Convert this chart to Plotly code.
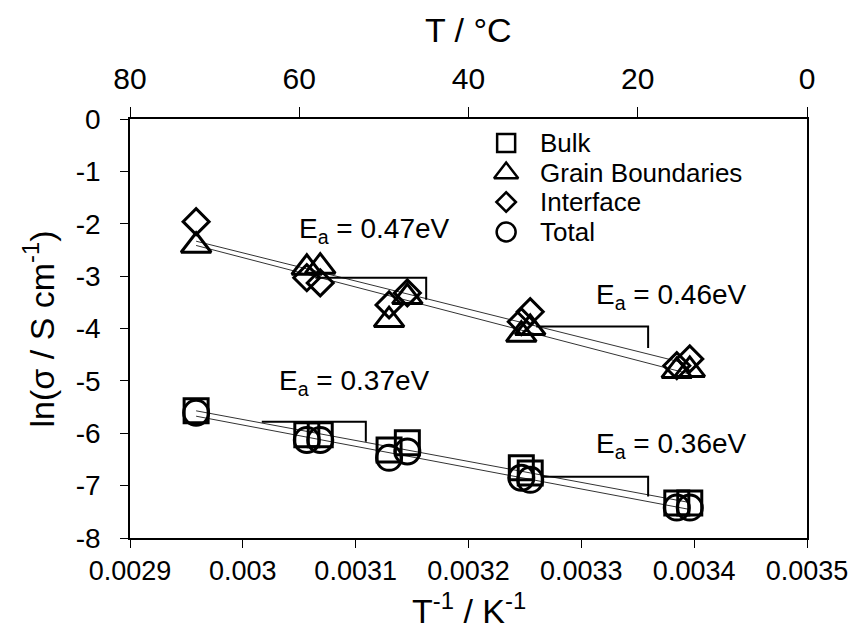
import numpy as np
import plotly.graph_objects as go

# ---- data ----
inv_T = [0.0029586, 0.0030567, 0.0030686, 0.0031296, 0.0031458,
         0.0032468, 0.0032547, 0.0033846, 0.0033961]
bulk = [-5.57, -6.03, -6.03, -6.32, -6.18, -6.66, -6.76, -7.33, -7.33]
grain_boundaries = [-2.42, -2.84, -2.82, -3.84, -3.40, -4.12, -3.99, -4.81, -4.79]
interface = [-1.96, -3.03, -3.13, -3.55, -3.32, -3.87, -3.68, -4.71, -4.58]
total = [-5.61, -6.13, -6.13, -6.47, -6.35, -6.85, -6.89, -7.42, -7.42]

series_names = ["Bulk", "Grain Boundaries", "Interface", "Total"]

x_ticks = [0.0029, 0.0030, 0.0031, 0.0032, 0.0033, 0.0034, 0.0035]
x_ticktext = ["0.0029", "0.003", "0.0031", "0.0032", "0.0033", "0.0034", "0.0035"]
y_ticks = [0, -1, -2, -3, -4, -5, -6, -7, -8]
y_ticktext = ["0", "-1", "-2", "-3", "-4", "-5", "-6", "-7", "-8"]
top_ticks = [80, 60, 40, 20, 0]

# slope guide brackets (x, y in data units) and their labels
brackets = [
    ([0.0030642, 0.0031625, 0.0031625], [-3.03, -3.03, -3.45]),
    ([0.0032600, 0.0033592, 0.0033592], [-3.96, -3.96, -4.37]),
    ([0.0030168, 0.0031090, 0.0031090], [-5.78, -5.78, -6.16]),
    ([0.0032661, 0.0033592, 0.0033592], [-6.83, -6.83, -7.21]),
]
ea_labels = ["0.47eV", "0.46eV", "0.37eV", "0.36eV"]
ea_x = [0.0031169, 0.0033803, 0.0030993, 0.0033803]
ea_y = [-2.12, -3.38, -5.04, -6.24]

FONT = "Liberation Sans, Arial, sans-serif"

symbols = ["square-open", "triangle-up-open", "diamond-open", "circle-open"]
sizes = [24, 26, 20, 25]
legend_sizes = [18, 21, 15, 19]
values = [bulk, grain_boundaries, interface, total]

fig = go.Figure()

# linear-fit trendlines
for vals in values:
    k, b = np.polyfit(inv_T, vals, 1)
    xs = np.array([min(inv_T), max(inv_T)])
    fig.add_trace(go.Scatter(x=xs, y=k * xs + b, mode="lines",
                             line=dict(color="#333333", width=1),
                             showlegend=False, hoverinfo="skip"))

# slope brackets
for bx, by in brackets:
    fig.add_trace(go.Scatter(x=bx, y=by, mode="lines",
                             line=dict(color="black", width=2),
                             showlegend=False, hoverinfo="skip"))

# data markers
for name, vals, sym, sz in zip(series_names, values, symbols, sizes):
    fig.add_trace(go.Scatter(x=inv_T, y=vals, mode="markers", name=name,
                             marker=dict(symbol=sym, size=sz, color="black",
                                         line=dict(color="black", width=3)),
                             showlegend=False))

# dummy trace to activate the top temperature axis
fig.add_trace(go.Scatter(x=[80, 0], y=[-100, -100], xaxis="x2", mode="markers",
                         marker=dict(opacity=0), showlegend=False, hoverinfo="skip"))

# hand-made legend on an invisible 0..1 overlay axis
leg_x_marker = 0.5556
leg_x_text = 0.603
leg_y = [0.9427, 0.8711, 0.8019, 0.7303]
for name, sym, sz, ly in zip(series_names, symbols, legend_sizes, leg_y):
    fig.add_trace(go.Scatter(x=[leg_x_marker], y=[ly], xaxis="x3", yaxis="y3",
                             mode="markers", showlegend=False, hoverinfo="skip",
                             marker=dict(symbol=sym, size=sz, color="black",
                                         line=dict(color="black", width=2.5))))
    fig.add_annotation(x=leg_x_text, y=ly, xref="paper", yref="paper", text=name,
                       showarrow=False, xanchor="left", yanchor="middle",
                       font=dict(family=FONT, size=26, color="black"))

for lab, ax, ay in zip(ea_labels, ea_x, ea_y):
    fig.add_annotation(x=ax, y=ay, text="E<sub>a</sub> = " + lab, showarrow=False,
                       font=dict(family=FONT, size=28, color="black"))

# axis titles
TITLE = dict(family=FONT, size=34, color="black")
fig.add_annotation(x=0.5, y=1.2124, xref="paper", yref="paper", text="T / °C",
                   showarrow=False, xanchor="center", yanchor="middle", font=TITLE)
fig.add_annotation(x=0.5, y=-0.168, xref="paper", yref="paper",
                   text="T<sup>-1</sup> / K<sup>-1</sup>",
                   showarrow=False, xanchor="center", yanchor="middle", font=TITLE)
fig.add_annotation(x=-0.1345, y=0.5, xref="paper", yref="paper",
                   text="ln(σ / S cm<sup>-1</sup>)", textangle=-90,
                   showarrow=False, xanchor="center", yanchor="middle", font=TITLE)

AX = dict(showgrid=False, zeroline=False, showline=True, linecolor="black",
          linewidth=1.5, ticks="outside", tickcolor="black")

fig.update_layout(
    width=860, height=636,
    margin=dict(l=130, r=46, t=119, b=98),
    paper_bgcolor="white", plot_bgcolor="white",
    font=dict(family=FONT, size=28, color="black"),
    xaxis=dict(range=[0.0029, 0.0035], tickvals=x_ticks, ticktext=x_ticktext,
               ticklen=8, ticklabelstandoff=0, tickfont=dict(size=27), **AX),
    xaxis2=dict(range=[80, 0], overlaying="x", side="top", tickvals=top_ticks,
                ticklen=10, ticklabelstandoff=6, tickfont=dict(size=30), **AX),
    xaxis3=dict(range=[0, 1], overlaying="x", visible=False),
    yaxis=dict(range=[-8, 0], tickvals=y_ticks, ticktext=y_ticktext, mirror=True,
               ticklen=8, ticklabelstandoff=14, tickfont=dict(size=28), **AX),
    yaxis3=dict(range=[0, 1], overlaying="y", visible=False),
    showlegend=False,
)

fig.write_html("out.html")
